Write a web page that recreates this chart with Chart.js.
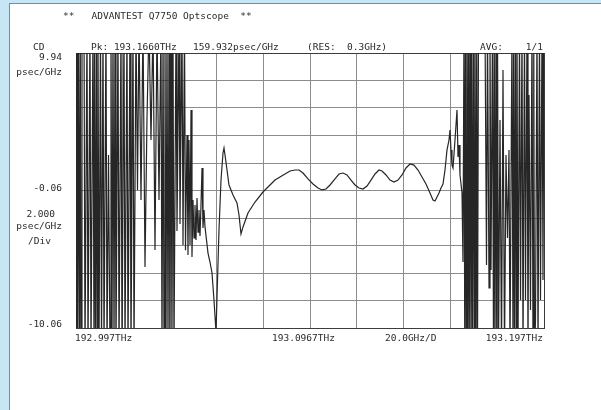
<!DOCTYPE html>
<html>
<head>
<meta charset="utf-8">
<script src="https://cdn.jsdelivr.net/npm/chart.js@4.4.1/dist/chart.umd.min.js"></script>
<style>
  html, body { margin: 0; padding: 0; }
  body { width: 601px; height: 410px; background: #c6e6f6; position: relative; overflow: hidden; }
  #sheet {
    position: absolute; left: 9px; top: 3px; right: 0; bottom: 0;
    background: #ffffff;
    border-left: 1px solid #27a8e0;
    border-top: 1px solid #27a8e0;
  }
  #cd { position: absolute; left: 0; top: 0; }
</style>
</head>
<body>
<div id="sheet"></div>
<canvas id="cd" width="601" height="410"></canvas>
<script>
// Q7750 Optscope — CD vs frecuencia (copia de impresión)
// Eje X en GHz desde 192.997 THz (0..200), eje Y en psec/GHz.

/* global Chart */

// ruido a la izquierda (fuera de banda)
const leftNoiseGHz = [
  0, 0.21, 0.43, 0.75, 1.07, 1.50, 1.82, 2.14, 2.56, 3.42, 3.85, 4.70, 5.13, 5.98, 6.41, 7.26, 7.69,
  7.95, 8.33, 8.76, 9.05, 9.40, 9.83, 10.47, 10.90, 11.54, 11.97, 12.82, 13.25, 13.89, 14.53,
  14.95, 15.38, 15.81, 16.25, 16.67, 17.09, 17.95, 18.38, 19.23, 19.66, 20.51, 20.94, 21.79, 22.22,
  23.08, 23.50, 24.36, 24.79, 25.64, 26.28, 26.92, 27.78, 28.63, 29.49, 30.34, 31.20,
  32.05, 32.91, 33.76, 34.62, 35.47, 36.32, 36.75, 37.20, 37.61, 38.03, 38.45, 38.89, 39.32, 39.75, 40.17,
  40.60, 41.00, 41.45, 41.88, 42.74, 43.16, 44.02, 44.44, 45.30, 45.73, 46.37, 46.79, 47.44,
  47.86, 48.29, 48.72, 49.15, 49.57,
];
const leftNoiseCD = [
  12, -12, 12, -12, 12, -12, 12, -12, 12, 12, -12, 12, -12, 12, -12, 12, -12,
  12, -12, 12, -12, 12, -12, 12, -12, 12, -12, 12, -12, 2.52, -12,
  12, -12, 12, -12, 12, -12, 12, -12, 12, -12, 12, -12, 12, -12,
  12, -12, 12, -12, 12, -0.02, 12, -0.75, 12, -5.62, 5.21, 12,
  3.61, 12, -4.39, 12, -0.75, 12, -12, 12, -12, 12, -12, 12, -12, 12, -12,
  12, -12, 12, -12, 12, -3.0, 12, -2.5, 12, -4.02, 12, -4.4, 3.98,
  -4.75, 3.61, -4.02, 5.79, -4.90,
];

// traza en banda
const traceGHz = [
  50.00, 50.43, 50.85, 51.28, 51.71, 52.14, 52.56, 52.99, 53.42, 53.85, 54.27, 54.70,
  55.13, 56.41, 57.26, 58.12, 58.97, 59.83, 60.26, 61.11, 61.97, 62.82, 63.25, 63.68,
  64.53, 65.38, 67.09, 68.80, 69.66, 70.51, 71.37, 73.50, 76.50, 79.91, 82.91, 85.04,
  87.18, 89.32, 91.45, 93.59, 95.30, 97.01, 99.15, 101.28, 103.42, 105.13, 106.84, 108.55,
  110.68, 112.39, 114.10, 115.81, 117.52, 119.23, 120.94, 122.65, 124.36, 126.07, 127.78, 129.49,
  130.77, 132.48, 134.19, 135.90, 137.61, 139.32, 141.03, 142.74, 144.44, 146.15, 147.86, 149.57,
  151.28, 152.56, 153.42, 154.27, 155.13, 155.98, 156.84, 157.69, 158.55, 159.40, 159.83, 160.26,
  160.68, 161.11, 161.97, 162.82, 163.25, 163.68, 164.10, 164.96, 165.38,
];
const traceCD = [
  -0.75, -3.51, -1.11, -3.66, -0.61, -3.08, -1.48, -3.37, -1.11, 1.58, -2.79, -1.48,
  -2.71, -4.61, -5.26, -6.06, -8.02, -10.35, -7.81, -2.93, 0.70, 2.67, 3.03, 2.52,
  1.43, 0.34, -0.39, -0.97, -1.84, -3.22, -2.71, -1.70, -0.90, -0.17, 0.34, 0.70,
  0.92, 1.14, 1.36, 1.43, 1.43, 1.21, 0.78, 0.41, 0.12, -0.02, 0.05, 0.34,
  0.78, 1.14, 1.21, 1.07, 0.70, 0.34, 0.12, 0.05, 0.27, 0.70, 1.14, 1.43,
  1.36, 1.07, 0.70, 0.56, 0.70, 1.07, 1.58, 1.87, 1.79, 1.43, 0.92, 0.41,
  -0.24, -0.75, -0.82, -0.53, -0.24, 0.12, 0.41, 1.43, 2.89, 3.61, 4.34, 2.89,
  1.79, 1.58, 3.61, 5.79, 2.38, 3.25, 1.07, -0.24, -5.26,
];

// ruido a la derecha; null = hueco sin trazo
const rightNoiseGHz = [
  165.81, 166.13, 166.45, 166.77, 167.09, 167.42, 167.74, 168.06, 168.38, 168.80, 169.12, 169.44, 169.87, 170.20,
  170.51, 170.94, 171.25, 171.58, 172.01,
  173.40, 174.79, 175.43, 175.85, 176.50, 176.92, 177.35, 177.99, 178.42, 178.75, 179.06, 179.49, 179.80, 180.13,
  180.56, 181.20, 181.84, 182.48, 183.12, 183.76, 184.40, 185.04, 185.47, 186.32, 186.75, 187.05, 187.39,
  187.82, 188.15, 188.46, 188.89, 189.53, 189.96, 190.60, 191.03, 191.67, 192.09, 192.74, 193.16, 193.59,
  194.23, 194.87, 195.30, 195.62, 195.94, 196.37, 197.01, 197.44, 198.08, 198.50, 199.15, 199.57, 200,
];
const rightNoiseCD = [
  12, -12, 12, -12, 12, -12, 12, -12, 12, -12, 12, -12, 12, -12,
  12, -12, 12, -12, 12,
  null, 12, -5.48, 12, -7.15, 12, -5.84, 12, -12, 12, -12, 12, -12, 12,
  -12, 5.07, -12, 8.70, -12, 2.52, -3.51, 2.89, -12, 12, -12, 12, -12,
  12, -12, 12, -12, 12, -8.02, 12, -12, 12, -8.02, 12, -12, 6.89,
  -8.75, 12, -12, 12, -12, -9.48, 12, -12, 12, -8.02, 12, -6.57, 12,
];

// rejilla: 10 divisiones por eje
const xGridGHz = [0, 20, 40, 60, 80, 100, 120, 140, 160, 180, 200];
const yGridCD  = [-10.06, -8.06, -6.06, -4.06, -2.06, -0.06, 1.94, 3.94, 5.94, 7.94, 9.94];

// textos de la impresión
const titleText   = '**   ADVANTEST Q7750 Optscope  **';
const headerTexts = ['CD', 'Pk: 193.1660THz', '159.932psec/GHz', '(RES:  0.3GHz)', 'AVG:', '1/1'];
const yTickLabels = ['9.94', '-0.06', '-10.06'];
const yUnitTexts  = ['psec/GHz', '2.000', 'psec/GHz', '/Div'];
const xTickLabels = ['192.997THz', '193.0967THz', '20.0GHz/D', '193.197THz'];

const FONT = "9.5px 'DejaVu Sans Mono', monospace";
const INK  = '#2a2a2a';

/** Une las tres tramas en un solo array {x, y} */
function toPoints() {
  const pts = [];
  const push = (xs, ys) => xs.forEach((x, i) => pts.push({ x, y: ys[i] }));
  push(leftNoiseGHz, leftNoiseCD);
  push(traceGHz, traceCD);
  push(rightNoiseGHz, rightNoiseCD);
  return pts;
}

/** Color de rejilla: bordes más oscuros */
function gridColor(ctx) {
  const last = ctx.scale.ticks.length - 1;
  return (ctx.index === 0 || ctx.index === last) ? '#3c3c3c' : '#8c8c8c';
}

/** Textos fijos de la pantalla del instrumento */
const printLabels = {
  id: 'printLabels',
  afterDraw(chart) {
    const { ctx, chartArea: a, scales } = chart;
    const y = scales.y;
    ctx.save();
    ctx.font = FONT;
    ctx.fillStyle = INK;
    ctx.textBaseline = 'middle';

    ctx.textAlign = 'left';
    ctx.fillText(titleText, 63, 17);
    ctx.fillText(headerTexts[0], 33, 48);
    ctx.fillText(headerTexts[1], 91, 48);
    ctx.fillText(headerTexts[2], 193, 48);
    ctx.fillText(headerTexts[3], 307, 48);
    ctx.fillText(headerTexts[4], 480, 48);
    ctx.textAlign = 'right';
    ctx.fillText(headerTexts[5], a.right - 1, 48);

    // etiquetas Y en arriba / centro / abajo
    ctx.fillText(yTickLabels[0], 62, y.getPixelForValue(9.94) + 5);
    ctx.fillText(yTickLabels[1], 62, y.getPixelForValue(-0.06) - 2);
    ctx.fillText(yTickLabels[2], 62, y.getPixelForValue(-10.06) - 3);

    ctx.fillText(yUnitTexts[0], 62, 73);
    ctx.fillText(yUnitTexts[1], 55, 215);
    ctx.fillText(yUnitTexts[2], 62, 227);
    ctx.textAlign = 'left';
    ctx.fillText(yUnitTexts[3], 28, 242);

    // pie del eje X
    const by = a.bottom + 11;
    ctx.fillText(xTickLabels[0], a.left - 1, by);
    ctx.fillText(xTickLabels[1], 272, by);
    ctx.fillText(xTickLabels[2], 385, by);
    ctx.textAlign = 'right';
    ctx.fillText(xTickLabels[3], a.right - 1, by);
    ctx.restore();
  },
};

function renderScope(canvasId) {
  const canvas = document.getElementById(canvasId);
  if (!canvas) return;

  new Chart(canvas, {
    type: 'line',
    data: {
      datasets: [{
        data:        toPoints(),
        borderColor: '#262626',
        borderWidth: 1.2,
        pointRadius: 0,
        tension:     0,
        spanGaps:    false,
      }],
    },
    options: {
      responsive: false,
      animation:  false,
      devicePixelRatio: 1,
      layout: { padding: { left: 76, right: 57, top: 53, bottom: 82 } },
      plugins: {
        legend:  { display: false },
        tooltip: { enabled: false },
      },
      scales: {
        x: {
          type: 'linear',
          min: 0,
          max: 200,
          afterBuildTicks: axis => { axis.ticks = xGridGHz.map(v => ({ value: v })); },
          ticks:  { display: false },
          grid:   { color: gridColor, lineWidth: 1, drawTicks: false },
          border: { color: '#3c3c3c' },
        },
        y: {
          min: -10.06,
          max: 9.94,
          afterBuildTicks: axis => { axis.ticks = yGridCD.map(v => ({ value: v })); },
          ticks:  { display: false },
          grid:   { color: gridColor, lineWidth: 1, drawTicks: false },
          border: { color: '#3c3c3c' },
        },
      },
    },
    plugins: [printLabels],
  });
}

renderScope('cd');
</script>
</body>
</html>
